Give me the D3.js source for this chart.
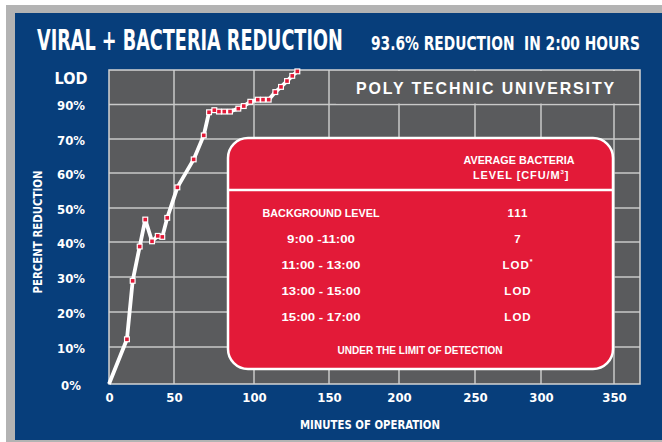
<!DOCTYPE html>
<html>
<head>
<meta charset="utf-8">
<script src="https://cdn.jsdelivr.net/npm/d3@7"></script>
<style>
  body { margin: 0; background: #fff; }
  svg text { font-family: "Liberation Sans Narrow", "DejaVu Sans Condensed", "Liberation Sans", sans-serif; font-weight: bold; fill: #fff; }
  .tbl text { font-family: "Liberation Sans", "DejaVu Sans", sans-serif; }
</style>
</head>
<body>
<svg id="chart"></svg>
<script>
// minutes of operation and percent reduction
const minutes = [0, 13.8, 18.2, 23.6, 27.9, 33.1, 37.5, 41.0, 44.8, 52.1, 62.3, 68.6, 71.9, 75.2, 78.1, 81.4, 85.0, 90.2, 93.6, 97.7, 102.5, 106.0, 109.8, 114.2, 118.0, 122.0, 125.5, 128.9];
const reduction = [0, 12.2, 28.9, 38.7, 46.6, 40.2, 41.8, 41.5, 47.1, 55.9, 64.0, 72.1, 85.5, 86.7, 85.9, 85.9, 85.9, 87.6, 89.1, 90.8, 91.4, 91.4, 91.4, 93.6, 95.1, 96.8, 98.3, 99.6];

const xTicks = [0, 50, 100, 150, 200, 250, 300, 350];
const yTicks = [0, 10, 20, 30, 40, 50, 60, 70, 90, 100];
const yTickLabels = ["0%", "10%", "20%", "30%", "40%", "50%", "60%", "70%", "90%", "LOD"];

const tableHeader = ["AVERAGE BACTERIA", "LEVEL [CFU/M"];
const periods = ["BACKGROUND LEVEL", "9:00 -11:00", "11:00 - 13:00", "13:00 - 15:00", "15:00 - 17:00"];
const levels = ["111", "7", "LOD", "LOD", "LOD"];
const footnote = "UNDER THE LIMIT OF DETECTION";

const width = 662, height = 442;
const blue = "#073e7b", plotBg = "#5a5b5d", red = "#e31a38", grid = "#c9c9c9";

const svg = d3.select("#chart").attr("width", width).attr("height", height);

// squeeze a text horizontally to a given width (start anchored)
const fitText = (x0, y0, size, w, str) => {
  const t = svg.append("text").attr("x", 0).attr("y", 0).attr("font-size", size).text(str);
  const natural = t.node().getComputedTextLength();
  t.attr("transform", `translate(${x0}, ${y0}) scale(${w / natural}, 1)`);
  return t;
};

// frame
svg.append("rect").attr("x", 6).attr("y", 5).attr("width", width - 6).attr("height", height - 5).attr("fill", "#b3b3b3");
svg.append("rect").attr("x", 15).attr("y", 13).attr("width", width - 15).attr("height", 427).attr("fill", blue);

// the axis is hand drawn, spacing is uneven
const x = d3.scaleLinear().domain(xTicks).range([109, 174, 254, 329, 399, 475, 541, 614]);
const y = d3.scaleLinear().domain(yTicks).range([384, 347, 312, 277, 242, 208, 173, 139, 104.5, 70]);

const plotL = 109, plotR = 640, plotT = 70, plotB = 384;

svg.append("rect").attr("x", plotL).attr("y", plotT).attr("width", plotR - plotL).attr("height", plotB - plotT)
  .attr("fill", plotBg);

// grid
svg.append("g").selectAll("line").data(xTicks.slice(1)).join("line")
  .attr("x1", d => x(d)).attr("x2", d => x(d)).attr("y1", plotT).attr("y2", plotB)
  .attr("stroke", grid).attr("stroke-width", 1.5);
svg.append("g").selectAll("line").data(yTicks.slice(1, -1)).join("line")
  .attr("x1", plotL).attr("x2", plotR).attr("y1", d => y(d)).attr("y2", d => y(d))
  .attr("stroke", grid).attr("stroke-width", 1.5);

// band behind the label
svg.append("rect").attr("x", 336).attr("y", plotT + 1).attr("width", plotR - 336).attr("height", y(90) - plotT - 2)
  .attr("fill", plotBg);
svg.append("text").attr("x", 486).attr("y", 94).attr("text-anchor", "middle")
  .attr("font-size", 17).attr("letter-spacing", 2).attr("fill", "#f2f2f2")
  .attr("textLength", 260).attr("lengthAdjust", "spacingAndGlyphs")
  .style("font-family", "'Liberation Sans', sans-serif")
  .text("POLY TECHNIC UNIVERSITY");

svg.append("rect").attr("x", plotL).attr("y", plotT).attr("width", plotR - plotL).attr("height", plotB - plotT)
  .attr("fill", "none").attr("stroke", "#d4d4d4").attr("stroke-width", 1.5);

// table
const tbl = svg.append("g").attr("class", "tbl");
tbl.append("rect").attr("x", 228).attr("y", 138).attr("width", 385).attr("height", 231).attr("rx", 20)
  .attr("fill", red).attr("stroke", "#fff").attr("stroke-width", 2.5);
tbl.append("line").attr("x1", 229).attr("x2", 612).attr("y1", 190).attr("y2", 190)
  .attr("stroke", "#fff").attr("stroke-width", 2.5);
tbl.append("text").attr("x", 519).attr("y", 164).attr("text-anchor", "middle").attr("font-size", 11)
  .attr("textLength", 111).attr("lengthAdjust", "spacingAndGlyphs").text(tableHeader[0]);
const h2 = tbl.append("text").attr("x", 473).attr("y", 179).attr("font-size", 11).attr("letter-spacing", 0.9);
h2.append("tspan").text(tableHeader[1]);
h2.append("tspan").attr("dy", -5).attr("font-size", 6).text("3");
h2.append("tspan").attr("dy", 5).text("]");

const rowY = [217, 243, 269, 295, 321];
const rowW = [117, 68, 79, 79, 79];
tbl.selectAll("text.period").data(periods).join("text").attr("class", "period")
  .attr("x", 321).attr("y", (d, i) => rowY[i]).attr("text-anchor", "middle").attr("font-size", 11.5)
  .attr("textLength", (d, i) => rowW[i]).attr("lengthAdjust", "spacingAndGlyphs")
  .text(d => d);
const lv = tbl.selectAll("text.level").data(levels).join("text").attr("class", "level")
  .attr("x", 518).attr("y", (d, i) => rowY[i]).attr("text-anchor", "middle").attr("font-size", 11.5)
  .attr("letter-spacing", 1)
  .text(d => d);
lv.filter((d, i) => i === 2).append("tspan").attr("dy", -5).attr("font-size", 7).text("*");
tbl.append("text").attr("x", 420).attr("y", 354).attr("text-anchor", "middle").attr("font-size", 10.5)
  .attr("textLength", 165).attr("lengthAdjust", "spacingAndGlyphs").text(footnote);

// data line
const pts = minutes.map((m, i) => [m, reduction[i]]);
svg.append("path").datum(pts)
  .attr("d", d3.line().x(d => x(d[0])).y(d => y(d[1])))
  .attr("fill", "none").attr("stroke", "#fff").attr("stroke-width", 3.8).attr("stroke-linejoin", "round");
svg.append("g").selectAll("rect").data(pts.slice(1)).join("rect")
  .attr("x", d => x(d[0]) - 3).attr("y", d => y(d[1]) - 3).attr("width", 6).attr("height", 6).attr("fill", "#fff");
svg.append("g").selectAll("rect").data(pts.slice(1)).join("rect")
  .attr("x", d => x(d[0]) - 1.8).attr("y", d => y(d[1]) - 1.8).attr("width", 3.6).attr("height", 3.6).attr("fill", red);

// axes
const xAxis = d3.axisBottom(x).tickValues(xTicks).tickSize(0).tickPadding(0).tickFormat(d3.format("d"));
const gx = svg.append("g").attr("transform", "translate(0, 393)").call(xAxis);
gx.select(".domain").remove();
gx.selectAll("text").attr("font-size", 13).attr("dy", "0.71em").attr("fill", "#fff");

const yAxis = d3.axisLeft(y).tickValues(yTicks).tickSize(0).tickFormat((d, i) => yTickLabels[i]);
const gy = svg.append("g").attr("transform", "translate(71, 0)").call(yAxis);
gy.select(".domain").remove();
gy.selectAll("text").attr("x", 0).attr("text-anchor", "middle").attr("font-size", 13).attr("fill", "#fff")
  .attr("dy", "0.4em");
gy.selectAll(".tick").filter(d => d === 100).attr("transform", "translate(0, 78)")
  .select("text").attr("font-size", 16);
gy.attr("font-family", null).attr("font-size", null);
gx.attr("font-family", null).attr("font-size", null);

svg.append("text").attr("x", 370).attr("y", 429).attr("text-anchor", "middle").attr("font-size", 13)
  .attr("textLength", 140).attr("lengthAdjust", "spacingAndGlyphs").text("MINUTES OF OPERATION");
svg.append("text").attr("transform", "translate(42, 232) rotate(-90)").attr("text-anchor", "middle")
  .attr("font-size", 12).attr("textLength", 123).attr("lengthAdjust", "spacingAndGlyphs").text("PERCENT REDUCTION");

// titles
fitText(37, 50, 28, 306, "VIRAL + BACTERIA REDUCTION");
fitText(371, 50, 19, 269, "93.6% REDUCTION\u00a0 IN 2:00 HOURS");
</script>
</body>
</html>
